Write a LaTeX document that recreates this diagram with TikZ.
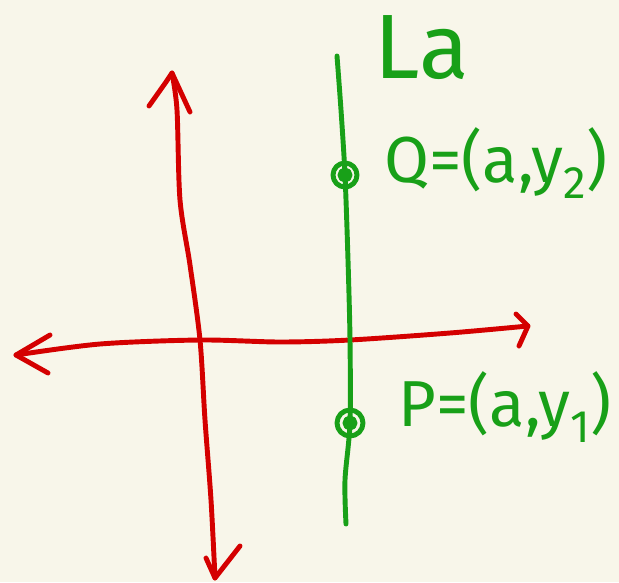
\documentclass[tikz,border=0pt]{standalone}
\usepackage{fontspec}
\setmainfont{Fira Sans}
\definecolor{paper}{RGB}{248,246,234}
\definecolor{penred}{RGB}{212,0,0}
\definecolor{pengreen}{RGB}{24,160,24}

\begin{document}
\begin{tikzpicture}[x=0.02cm,y=-0.02cm,line cap=round,line join=round,
  redpen/.style={draw=penred,line width=2.8pt},
  greenpen/.style={draw=pengreen,line width=2.8pt},
  greentext/.style={text=pengreen,inner sep=0pt,font=\fontsize{37}{40}\selectfont}]
  \fill[paper] (0,0) rectangle (619,582);
  \useasboundingbox (0,0) rectangle (619,582);
  % horizontal axis
  \coordinate (Xl) at (16,355);
  \coordinate (Xr) at (528,326);
  \coordinate (Xla) at (50,335);
  \coordinate (Xlb) at (48,373);
  \coordinate (Xra) at (516,314);
  \coordinate (Xrb) at (519,346);
  \draw[redpen] plot[smooth] coordinates {(Xl) (100,344) (200,340) (280,342) (350,340) (450,333) (Xr)};
  \draw[redpen] (Xla) -- (Xl) -- (Xlb);
  \draw[redpen] (Xra) -- (Xr) -- (Xrb);
  % vertical axis
  \coordinate (Yt) at (172,73);
  \coordinate (Yb) at (215,578);
  \coordinate (Yta) at (149,106);
  \coordinate (Ytb) at (190,112);
  \coordinate (Yba) at (206,558);
  \coordinate (Ybb) at (240,546);
  \draw[redpen] plot[smooth] coordinates {(Yt) (177,110) (180,200) (190,265) (200,340) (205,420) (211,500) (Yb)};
  \draw[redpen] (Yta) -- (166,82) -- (Yt) -- (Ytb);
  \draw[redpen] (Yba) -- (Yb) -- (Ybb);
  % the line La
  \coordinate (Lt) at (337,56);
  \coordinate (Lb) at (346,524);
  \coordinate (Q) at (345,175);
  \coordinate (P) at (350,423);
  \draw[greenpen] plot[smooth] coordinates {(Lt) (341,110) (Q) (348,260) (350,340) (P) (345,480) (Lb)};
  \draw[greenpen] (Q) circle (12) (Q) circle (5);
  \draw[greenpen] (P) circle (13) (P) circle (5);
  \node[greentext,font=\fontsize{52}{56}\selectfont] (la) at (422,48) {La};
  \node[greentext] (qlabel) at (496,163) {Q=(a,y\textsubscript{2})};
  \node[greentext] (plabel) at (505,407) {P=(a,y\textsubscript{1})};
\end{tikzpicture}
\end{document}
